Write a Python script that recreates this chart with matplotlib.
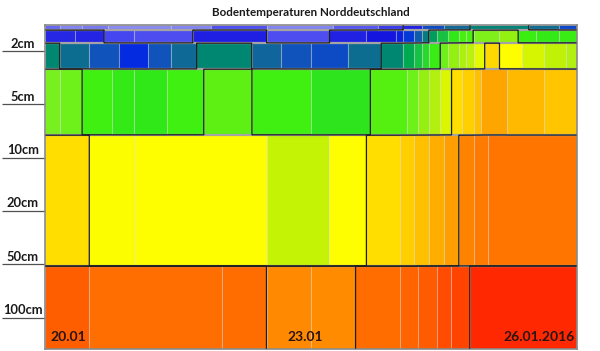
import matplotlib.pyplot as plt
import numpy as np
from matplotlib.colors import LinearSegmentedColormap, Normalize

plt.rcParams['font.family'] = ['Lato', 'DejaVu Sans']

# soil layers, top to bottom; edges in hours since 20.01.2016 00:00, values in degC
layer0_edges = [0, 4, 10, 17, 34, 45, 60, 78, 90, 97, 102, 108, 115, 131, 139, 144]
layer0_temp = [-5.3, -5.8, -5.6, -5.9, -5.8, -4.8, -5.8, -5.0, -4.3, -3.4, -2.3, -1.7, -1.1, -1.6, -2.4]

layer1_edges = [0, 8, 16, 24, 40, 60, 77, 87, 95, 97, 100, 102, 104, 106, 109, 112, 114, 116, 123, 128, 133, 139, 144]
layer1_temp = [-3.6, -3.5, -4.6, -4.8, -3.3, -4.8, -3.4, -3.0, -2.9, -2.6, -2.0, -1.3, -0.7, -0.1, 0.4, 0.7, 0.72,
               1.3, 1.5, 0.55, 0.45, 0.5]

layer2_edges = [0, 4, 12, 20, 28, 34, 41, 56, 64, 72, 82, 91, 97, 100, 102, 104, 107, 109, 112, 114, 116, 119, 123,
                129, 135, 141, 144]
layer2_temp = [-1.0, -1.6, -2.2, -2.8, -2.2, -1.7, -1.0, -1.8, -2.2, -2.3, -1.6, -1.0, -0.5, -0.1, 0.2, 0.5, 1.1,
               1.5, 1.75, 1.9, 2.25, 3.1, 2.5, 2.15, 1.95, 1.8]

layer3_edges = [0, 4, 10, 18, 24, 33, 43, 56, 72, 88, 98, 101, 104, 107, 110, 113, 116, 118, 125, 135, 144]
layer3_temp = [1.2, 1.1, 0.6, 0.45, 0.4, 0.6, 0.95, 0.6, 0.35, 0.85, 1.1, 1.5, 1.8, 2.2, 3.0, 3.25, 3.5, 3.9, 3.6, 3.4]

layer4_edges = [0, 12, 24, 60, 77, 87, 96, 100, 104, 108, 112, 116, 120, 144]
layer4_temp = [3.0, 2.45, 2.5, 2.0, 2.5, 3.0, 3.25, 3.5, 3.75, 4.0, 4.45, 4.6, 4.7]

layer5_edges = [0, 12, 48, 60, 72, 84, 96, 101, 106, 110, 115, 144]
layer5_temp = [5.15, 4.85, 4.9, 4.35, 4.3, 4.9, 5.05, 5.2, 5.4, 5.55, 6.0]

depth_labels = ['2cm', '5cm', '10cm', '20cm', '50cm', '100cm']
date_labels = ['20.01', '23.01', '26.01.2016']
date_pos = [0, 72, 144]
contour_levels = [-4.0, -1.25, 0.75, 2.75, 4.25, 4.75, 5.75]

layers = [(layer0_edges, layer0_temp), (layer1_edges, layer1_temp), (layer2_edges, layer2_temp),
          (layer3_edges, layer3_temp), (layer4_edges, layer4_temp), (layer5_edges, layer5_temp)]

# vertical layout of the bands (drawing units, top = 0)
band_y = [0, 5, 18, 44, 110, 241, 324]

anchors = [(-6.0, '#9090f0'), (-5.5, '#7070f0'), (-5.0, '#5555f0'), (-4.5, '#4040f0'), (-4.0, '#3030e8'),
           (-3.5, '#2424e4'), (-3.0, '#1515e0'), (-2.75, '#0030e0'), (-2.25, '#1050c0'), (-1.75, '#106898'),
           (-1.0, '#008870'), (-0.5, '#00a850'), (0.0, '#20c840'), (0.4, '#30e818'), (0.6, '#40f010'),
           (0.9, '#58f010'), (1.2, '#78f020'), (1.5, '#90f010'), (1.8, '#b0f010'), (2.1, '#d0f400'),
           (2.5, '#ffff00'), (3.0, '#ffe000'), (3.5, '#ffc000'), (4.0, '#ffa000'), (4.5, '#ff8000'),
           (5.0, '#ff6800'), (5.5, '#ff4800'), (6.0, '#ff2800')]
norm = Normalize(-6, 6)
cmap = LinearSegmentedColormap.from_list('soil', [((v + 6) / 12, c) for v, c in anchors])

fig = plt.figure(figsize=(6, 3.51), dpi=100)
ax = fig.add_axes([45 / 600, 2 / 351, 532 / 600, 324 / 351])

xs = np.arange(0, 144, 0.25) + 0.125
ys = np.arange(0, 324, 0.5) + 0.25
Z = np.zeros((len(ys), len(xs)))

for i, (edges, temps) in enumerate(layers):
    top, bot = band_y[i], band_y[i + 1]
    edges = np.array(edges, dtype=float)
    temps = np.array(temps)
    xr = list(zip(edges[:-1], np.diff(edges)))
    ax.broken_barh(xr, (top, bot - top), facecolors=cmap(norm(temps)),
                   edgecolor=(0.85, 0.85, 0.85, 0.3), linewidth=0.8, zorder=1)
    idx = np.searchsorted(edges, xs, side='right') - 1
    rows = (ys >= top) & (ys < bot)
    Z[rows, :] = temps[idx]

ax.hlines(band_y[1:-1], 0, 144, color='#a4a4a4', lw=1.6, zorder=2)
ax.contour(xs, ys, Z, levels=contour_levels, colors='#1e1e1e', linewidths=0.9,
           linestyles='solid', zorder=3)

ax.set_xlim(0, 144)
ax.set_ylim(324, 0)
ax.set_xticks([])
tick_y = 26 + 53.3 * np.arange(len(depth_labels))
ax.set_yticks(tick_y)
ax.set_yticklabels([])
ax.tick_params(axis='y', length=31, width=0.9, color='#505050')
for y, lab in zip(tick_y, depth_labels):
    ax.text(-22 / 532, y - 1.5, lab, transform=ax.get_yaxis_transform(), ha='center', va='bottom',
            fontsize=9.3, fontweight='bold', color='#1a1a1a')

for x, lab, ha in zip(date_pos, date_labels, ['left', 'center', 'right']):
    off = {'left': 1.5, 'center': -1.5, 'right': -0.6}[ha]
    ax.text(x + off, 312, lab, ha=ha, va='center', fontsize=10, fontweight='bold', color='#2a1414', zorder=4)

for s in ax.spines.values():
    s.set_color('#8a8a8a')
    s.set_linewidth(1.2)

fig.text(311 / 600, 1 - 12 / 351, 'Bodentemperaturen Norddeutschland', ha='center', va='center',
         fontsize=8.4, fontweight='bold', color='#1a1a1a')

fig.savefig('out.png', dpi=100)
